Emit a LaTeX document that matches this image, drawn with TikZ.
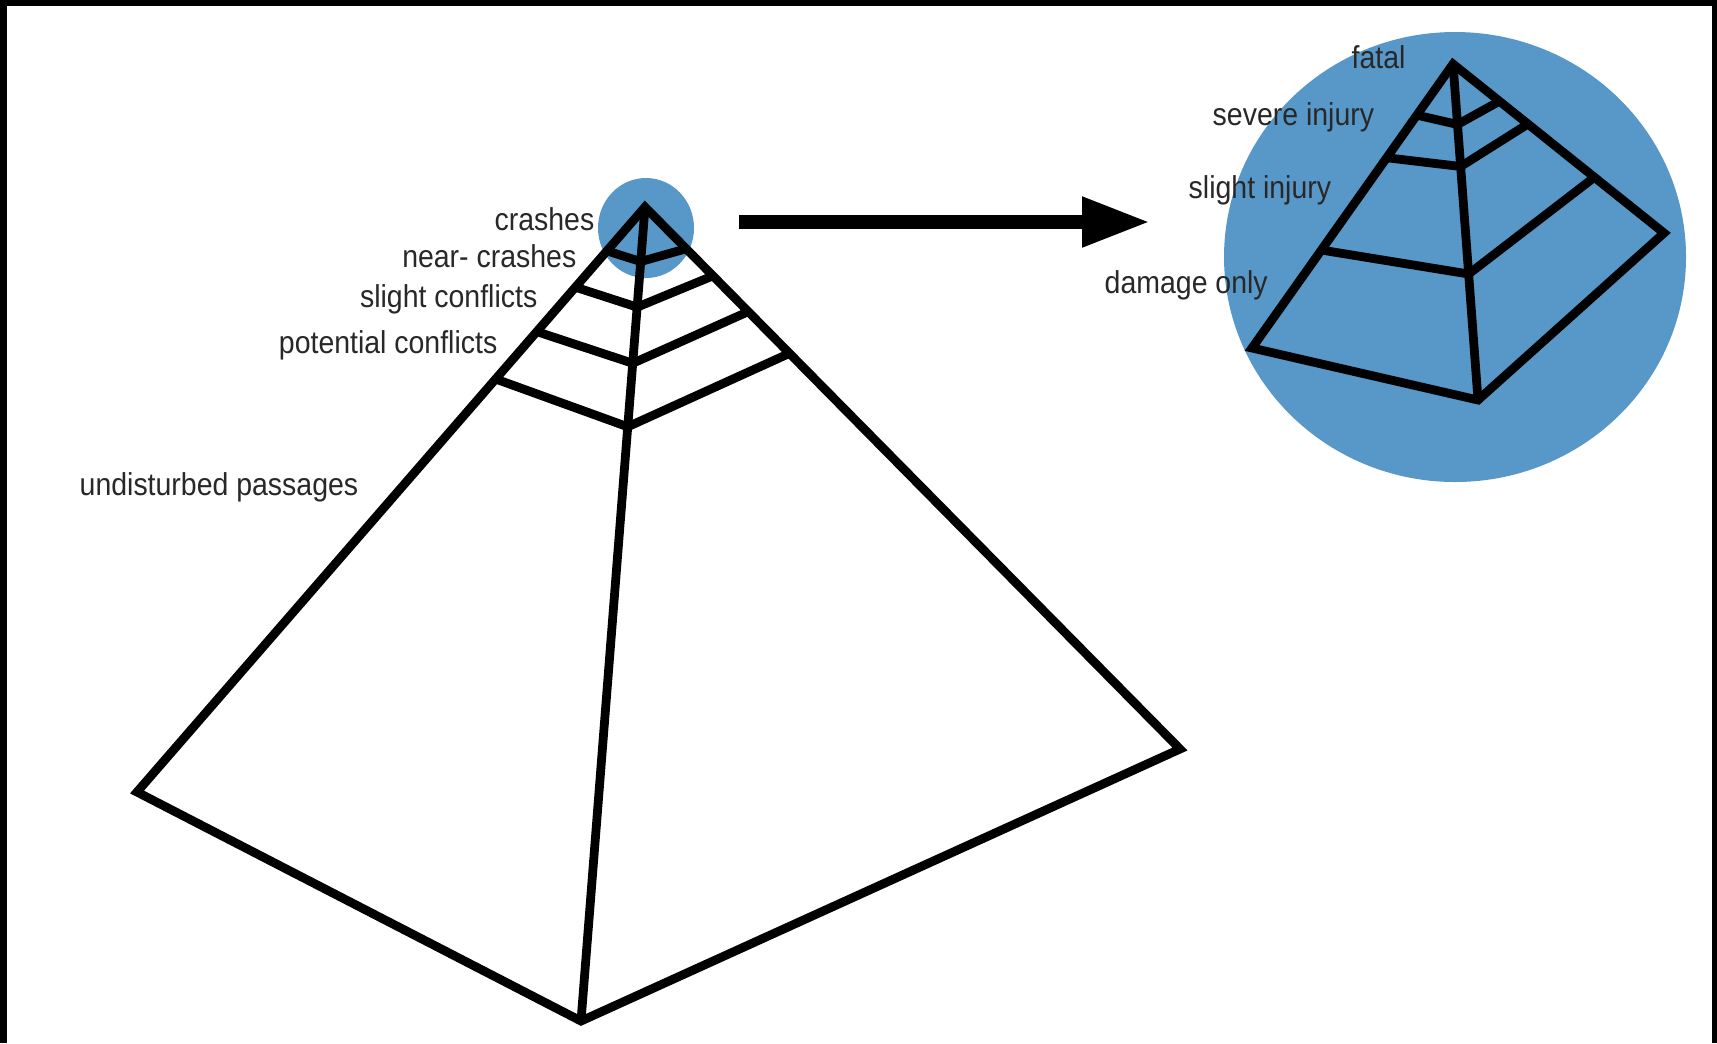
\documentclass[tikz,border=0pt]{standalone}
\usepackage{fontspec}
\setmainfont{Liberation Sans}
\newfontfamily\labfont[FakeStretch=0.9]{Liberation Sans}
\usetikzlibrary{arrows.meta,calc}
\definecolor{zoomblue}{RGB}{87,152,201}
\definecolor{labgray}{RGB}{40,40,40}
\begin{document}
\begin{tikzpicture}[x=0.1mm,y=-0.1mm,
  edge/.style={line width=2.5pt, line join=miter},
  band/.style={line width=2.5pt},
  lab/.style={font=\labfont\fontsize{9pt}{10pt}\selectfont, text=labgray, inner sep=0pt}]
\fill[black] (0,0) rectangle (1717,1043);
\fill[white] (7,6) rectangle (1712,1043);
\useasboundingbox (0,0) rectangle (1717,1043);

% blue highlight circles
\fill[zoomblue] (646,228) ellipse [x radius=4.8mm, y radius=5mm];
\fill[zoomblue] (1455,257) ellipse [x radius=23.1mm, y radius=22.5mm];

% labels, big pyramid
\node[lab, anchor=east] (crashes) at (595,219) {crashes};
\node[lab, anchor=east] (nearcrashes) at (577,256) {near- crashes};
\node[lab, anchor=east] (slightconf) at (538,299) {slight conflicts};
\node[lab, anchor=east] (potconf) at (498,345) {potential conflicts};
\node[lab, anchor=west] (undist) at (79,487) {undisturbed passages};
% labels, small pyramid
\node[lab, anchor=west] (fatal) at (1351,57) {fatal};
\node[lab, anchor=west] (severe) at (1212,117) {severe injury};
\node[lab, anchor=west] (slightinj) at (1188,190) {slight injury};
\node[lab, anchor=west] (damage) at (1104,285) {damage only};

% big pyramid
\coordinate (A) at (645,207);
\coordinate (L) at (137,792);
\coordinate (B) at (581,1021);
\coordinate (R) at (1180,749);
\draw[edge] (A) -- (L) -- (B) -- (R) -- cycle;
\draw[edge] (A) -- (B);
\foreach \tl/\tm/\tr in {0.075/0.067/0.077, 0.137/0.123/0.127, 0.213/0.192/0.193, 0.294/0.270/0.270}
  \draw[band] ($(A)!\tl!(L)$) -- ($(A)!\tm!(B)$) -- ($(A)!\tr!(R)$);

% small pyramid
\coordinate (a) at (1453,64);
\coordinate (l) at (1252,348);
\coordinate (b) at (1478,400);
\coordinate (r) at (1664,233);
\draw[edge] (a) -- (l) -- (b) -- (r) -- cycle;
\draw[edge] (a) -- (b);
\foreach \tl/\tm/\tr in {0.18/0.18/0.22, 0.33/0.305/0.355, 0.655/0.625/0.67}
  \draw[band] ($(a)!\tl!(l)$) -- ($(a)!\tm!(b)$) -- ($(a)!\tr!(r)$);

% arrow
\coordinate (arrS) at (739,222);
\coordinate (arrE) at (1150,222);
\draw[line width=4pt, -{Triangle[length=6.8mm,width=4.7mm]}] (arrS) -- (arrE);
\end{tikzpicture}
\end{document}
